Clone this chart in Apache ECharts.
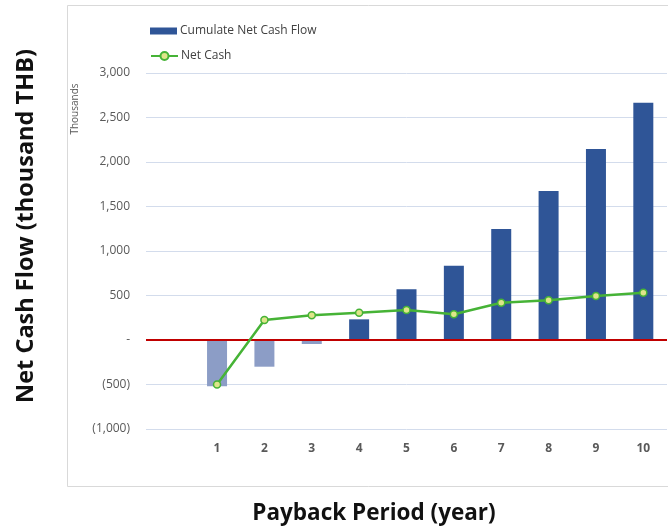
<!DOCTYPE html>
<html>
<head>
<meta charset="utf-8">
<script src="https://cdn.jsdelivr.net/npm/echarts@6/dist/echarts.min.js"></script>
<style>html,body{margin:0;padding:0;background:#fff;}#c{width:668px;height:529px;}</style>
</head>
<body>
<div id="c"></div>
<script>
const categories = ['', '1', '2', '3', '4', '5', '6', '7', '8', '9', '10'];
const cumulateNetCashFlow = [null, -520, -300, -45, 232, 570, 835, 1247, 1674, 2146, 2666];
const netCash = [null, -500, 225, 277, 307, 337, 289, 419, 446, 494, 531];
const yTicks = { min: -1000, max: 3000, interval: 500 };

const font = '"Open Sans", "Noto Sans", sans-serif';
const barDark = '#2f5597';
const barLight = '#8c9dc6';
const lineGreen = '#46b336';
function fmt(v) {
  if (v === 0) return '-';
  const s = Math.abs(v).toLocaleString('en-US');
  return v < 0 ? '(' + s + ')' : s;
}

const chart = echarts.init(document.getElementById('c'), null, { renderer: 'canvas' });
chart.setOption({
  animation: false,
  backgroundColor: '#ffffff',
  textStyle: { fontFamily: font },
  grid: { left: 146, right: 1, top: 73, bottom: 100, containLabel: false },
  legend: [
    {
      data: [{ name: 'Cumulate Net Cash Flow', icon: 'rect', itemStyle: { color: barDark } }],
      left: 150, top: 25, padding: 0, itemWidth: 27, itemHeight: 7,
      textStyle: { color: '#404040', fontSize: 12, fontFamily: font, padding: [0, 0, 0, -2] }
    },
    {
      data: ['Net Cash'],
      left: 150, top: 50, padding: 0, itemWidth: 27, itemHeight: 10,
      textStyle: { color: '#404040', fontSize: 12, fontFamily: font, padding: [0, 0, 0, -2] }
    }
  ],
  xAxis: {
    type: 'category',
    data: categories,
    axisLine: { show: false },
    axisTick: { show: false },
    axisLabel: { color: '#595959', fontSize: 12, fontWeight: 'bold', margin: 14, fontFamily: font },
    splitLine: { show: false }
  },
  yAxis: {
    type: 'value',
    min: yTicks.min, max: yTicks.max, interval: yTicks.interval,
    axisLine: { show: false },
    axisTick: { show: false },
    axisLabel: { color: '#595959', fontSize: 12, margin: 16, formatter: fmt, fontFamily: font },
    splitLine: { lineStyle: { color: '#d3dcec', width: 1 } }
  },
  series: [
    {
      name: 'Cumulate Net Cash Flow',
      type: 'bar',
      data: cumulateNetCashFlow,
      barWidth: 20,
      itemStyle: {
        color: function (p) { return p.value < 0 ? barLight : barDark; }
      },
      markLine: {
        silent: true,
        symbol: 'none',
        label: { show: false },
        lineStyle: { color: '#c00000', width: 2, type: 'solid' },
        data: [{ yAxis: 0 }]
      },
      z: 2
    },
    {
      name: 'Net Cash',
      type: 'line',
      data: netCash,
      symbol: 'circle',
      symbolSize: 7,
      lineStyle: { color: lineGreen, width: 2.5 },
      itemStyle: { color: '#dfe58a', borderColor: lineGreen, borderWidth: 1.5 },
      z: 5
    }
  ],
  graphic: [
    {
      type: 'rect', silent: true, z: -1,
      shape: { x: 67.5, y: 5.5, width: 620, height: 481 },
      style: { fill: 'none', stroke: '#d9d9d9', lineWidth: 1 }
    },
    {
      type: 'text', x: 75, y: 109, rotation: Math.PI / 2,
      style: { text: 'Thousands', fill: '#595959', font: '10px ' + font, align: 'center', verticalAlign: 'middle' }
    },
    {
      type: 'text', x: 26, y: 226, rotation: Math.PI / 2,
      style: { text: 'Net Cash Flow (thousand THB)', font: 'bold 23.5px ' + font, fill: '#111111', align: 'center', verticalAlign: 'middle' }
    },
    {
      type: 'text', x: 374, y: 514,
      style: { text: 'Payback Period (year)', font: 'bold 22.5px ' + font, fill: '#111111', align: 'center', verticalAlign: 'middle' }
    }
  ]
});
</script>
</body>
</html>
